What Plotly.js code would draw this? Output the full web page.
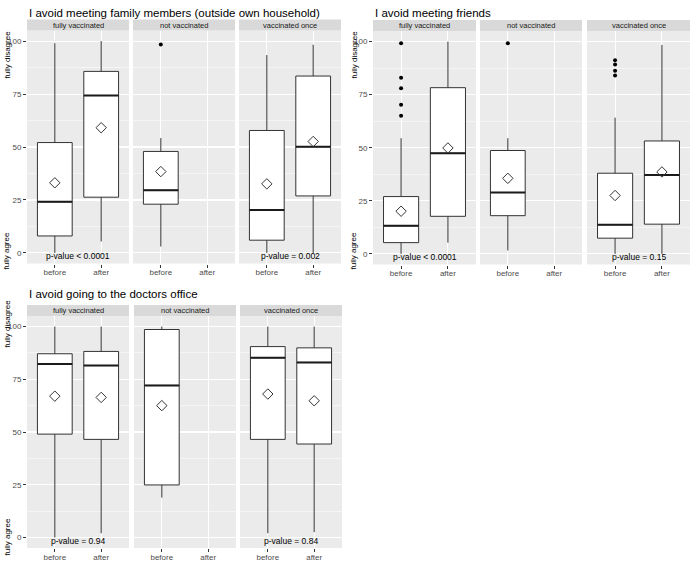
<!DOCTYPE html>
<html>
<head>
<meta charset="utf-8">
<script src="https://cdn.plot.ly/plotly-3.0.1.min.js"></script>
<style>body{margin:0;background:#fff}#chart{width:691px;height:563px}</style>
</head>
<body>
<div id="chart"></div>
<script>
var W = 691, H = 563;
var FONT = 'Liberation Sans, Arial, sans-serif';

var facetNames = ['fully vaccinated', 'not vaccinated', 'vaccinated once'];
var timeLabels = ['before', 'after'];
// box order: fully-before, fully-after, not-before, once-before, once-after
var boxFacet = [0, 0, 1, 2, 2];
var boxTime = [1, 2, 1, 1, 2];

// I avoid meeting family members
var famTitle = 'I avoid meeting family members (outside own household)';
var famLow  = [0, 5.4, 3, 0, 0];
var famQ1   = [8, 26.3, 23, 6, 26.9];
var famMed  = [24.1, 74.3, 29.6, 20.3, 50.1];
var famQ3   = [52.1, 85.7, 47.9, 57.8, 83.5];
var famHigh = [99, 100, 54.2, 93.4, 98.3];
var famMean = [33.1, 59.1, 38.4, 32.6, 52.6];
var famOut  = [[], [], [98.4], [], []];
var famP    = ['p-value < 0.0001', '', 'p-value = 0.002'];

// I avoid meeting friends
var friTitle = 'I avoid meeting friends';
var friLow  = [0, 5.3, 1.6, 0, 0];
var friQ1   = [5.3, 17.7, 18, 7.4, 14];
var friMed  = [13.2, 47.4, 28.9, 13.7, 37.2];
var friQ3   = [27, 78.3, 48.7, 38, 53.2];
var friHigh = [54.5, 100, 54.5, 64.2, 98.4];
var friMean = [20.1, 49.9, 35.6, 27.5, 38.6];
var friOut  = [[99.2, 83, 78, 70.2, 65.1], [], [99.2], [91.2, 89.2, 86.3, 84], []];
var friP    = ['p-value < 0.0001', '', 'p-value = 0.15'];

// I avoid going to the doctors office
var docTitle = 'I avoid going to the doctors office';
var docLow  = [0, 2, 18.9, 2, 2.5];
var docQ1   = [49, 46.5, 24.9, 46.5, 44.3];
var docMed  = [82.3, 81.5, 72.1, 85.2, 83];
var docQ3   = [87.1, 88.2, 98.6, 90.5, 89.9];
var docHigh = [100, 100, 100, 100, 100];
var docMean = [67, 66.4, 62.5, 68, 64.8];
var docOut  = [[], [], [], [], []];
var docP    = ['p-value = 0.94', '', 'p-value = 0.84'];

var yTicks = [0, 25, 50, 75, 100];

var panels = [
  {title: famTitle, low: famLow, q1: famQ1, med: famMed, q3: famQ3, high: famHigh, mean: famMean, out: famOut, p: famP},
  {title: friTitle, low: friLow, q1: friQ1, med: friMed, q3: friQ3, high: friHigh, mean: friMean, out: friOut, p: friP},
  {title: docTitle, low: docLow, q1: docQ1, med: docMed, q3: docQ3, high: docHigh, mean: docMean, out: docOut, p: docP}
];

// layout geometry in pixels
var facetX = [
  [[27, 129], [133, 235], [239, 341]],
  [[373, 476], [480, 582], [587, 690]],
  [[27, 129], [134, 236], [240, 342]]
];
var panelY = [[30.5, 263.5], [31, 264.5], [316, 548]];
var stripH = 11;
var titleX = [27, 373, 27], titleY = [13, 13, 294];
var yLabX = [6.5, 353.5, 6.5], disagreeY = [55, 55, 324], agreeY = [251, 251, 537];
var boxW = 0.75;

function fx(v) { return v / W; }
function fy(v) { return 1 - v / H; }

var data = [], shapes = [], annotations = [];
var layout = {
  width: W, height: H,
  margin: {l: 0, r: 0, t: 0, b: 0},
  paper_bgcolor: 'white',
  plot_bgcolor: '#EBEBEB',
  showlegend: false,
  font: {family: FONT},
  hovermode: false
};

panels.forEach(function(pn, pi) {
  // panel title
  annotations.push({
    text: pn.title, xref: 'paper', yref: 'paper',
    x: fx(titleX[pi]), y: fy(titleY[pi]), xanchor: 'left', yanchor: 'middle',
    showarrow: false, font: {size: 11.5, color: 'black', family: FONT}
  });
  annotations.push({
    text: 'fully disagree', xref: 'paper', yref: 'paper', textangle: -90,
    x: fx(yLabX[pi]), y: fy(disagreeY[pi]), xanchor: 'center', yanchor: 'middle',
    showarrow: false, font: {size: 8, color: 'black', family: FONT}
  });
  annotations.push({
    text: 'fully agree', xref: 'paper', yref: 'paper', textangle: -90,
    x: fx(yLabX[pi]), y: fy(agreeY[pi]), xanchor: 'center', yanchor: 'middle',
    showarrow: false, font: {size: 8, color: 'black', family: FONT}
  });

  for (var f = 0; f < 3; f++) {
    var n = pi * 3 + f + 1;
    var xa = n === 1 ? 'x' : 'x' + n, ya = n === 1 ? 'y' : 'y' + n;
    var xKey = n === 1 ? 'xaxis' : 'xaxis' + n, yKey = n === 1 ? 'yaxis' : 'yaxis' + n;
    var first = f === 0;
    var fxr = facetX[pi][f], py = panelY[pi];

    layout[xKey] = {
      domain: [fx(fxr[0]), fx(fxr[1])], anchor: ya,
      range: [0.4, 2.6], tickvals: [1, 2], ticktext: timeLabels,
      showgrid: true, gridcolor: 'white', gridwidth: 1.1, zeroline: false,
      ticks: 'outside', ticklen: 3, tickcolor: '#333333', tickwidth: 1,
      ticklabelstandoff: -2,
      tickfont: {size: 8, color: '#4D4D4D', family: FONT}, showline: false, fixedrange: true
    };
    layout[yKey] = {
      domain: [fy(py[1]), fy(py[0])], anchor: xa,
      range: [-5, 105], tickvals: yTicks,
      showgrid: true, gridcolor: 'white', gridwidth: 1.1, zeroline: false,
      minor: {tick0: 12.5, dtick: 25, showgrid: true, gridcolor: 'white', gridwidth: 0.5, ticks: ''},
      showticklabels: first, ticks: first ? 'outside' : '', ticklen: 3, tickcolor: '#333333', tickwidth: 1,
      tickfont: {size: 8, color: '#4D4D4D', family: FONT}, showline: false, fixedrange: true
    };

    // strip
    shapes.push({
      type: 'rect', xref: 'paper', yref: 'paper', layer: 'below',
      x0: fx(fxr[0]), x1: fx(fxr[1]), y0: fy(py[0]), y1: fy(py[0] - stripH),
      fillcolor: '#D9D9D9', line: {width: 0}
    });
    annotations.push({
      text: facetNames[f], xref: 'paper', yref: 'paper',
      x: fx((fxr[0] + fxr[1]) / 2), y: fy(py[0] - stripH / 2), xanchor: 'center', yanchor: 'middle',
      showarrow: false, font: {size: 7.5, color: '#1A1A1A', family: FONT}
    });

    // boxes of this facet
    var bx = [], bl = [], b1 = [], bm = [], b3 = [], bh = [], mean = [], medX = [], medY = [], ox = [], oy = [];
    for (var b = 0; b < boxFacet.length; b++) {
      if (boxFacet[b] !== f) continue;
      var t = boxTime[b];
      bx.push(t); bl.push(pn.low[b]); b1.push(pn.q1[b]); bm.push(pn.med[b]);
      b3.push(pn.q3[b]); bh.push(pn.high[b]); mean.push(pn.mean[b]);
      medX.push(t - boxW / 2, t + boxW / 2, null);
      medY.push(pn.med[b], pn.med[b], null);
      pn.out[b].forEach(function(v) { ox.push(t); oy.push(v); });
    }
    data.push({
      type: 'box', xaxis: xa, yaxis: ya, x: bx,
      lowerfence: bl, q1: b1, median: bm, q3: b3, upperfence: bh,
      width: boxW, whiskerwidth: 0, boxpoints: false,
      fillcolor: 'white', line: {color: '#333333', width: 1}
    });
    data.push({
      type: 'scatter', mode: 'lines', xaxis: xa, yaxis: ya,
      x: medX, y: medY, line: {color: '#1A1A1A', width: 2}
    });
    data.push({
      type: 'scatter', mode: 'markers', xaxis: xa, yaxis: ya,
      x: bx, y: mean,
      marker: {symbol: 'diamond-open', size: 8, color: '#333333', line: {width: 1, color: '#333333'}}
    });
    if (ox.length) {
      data.push({
        type: 'scatter', mode: 'markers', xaxis: xa, yaxis: ya,
        x: ox, y: oy, marker: {symbol: 'circle', size: 4, color: 'black'}
      });
    }
    if (pn.p[f]) {
      annotations.push({
        text: pn.p[f], xref: xa, yref: ya, x: 1.5, y: -1.5,
        xanchor: 'center', yanchor: 'middle', showarrow: false,
        font: {size: 8.5, color: 'black', family: FONT}
      });
    }
  }
});

layout.shapes = shapes;
layout.annotations = annotations;

Plotly.newPlot('chart', data, layout, {displayModeBar: false, staticPlot: true});
</script>
</body>
</html>
